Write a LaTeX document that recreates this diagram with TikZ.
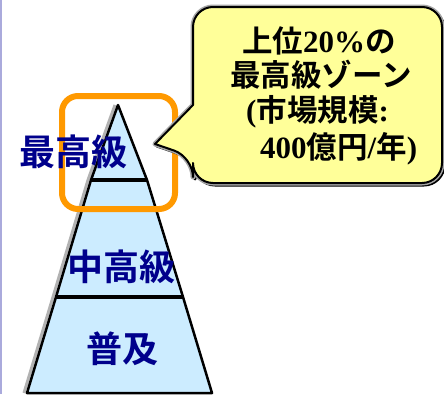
\documentclass[tikz,border=0pt]{standalone}
\usepackage{fontspec}
\setmainfont{Liberation Serif}
\newfontfamily\cjk{Noto Sans CJK JP}[BoldFont={* Bold}]
\definecolor{pyr}{RGB}{204,236,255}
\definecolor{lab}{RGB}{0,0,140}
\definecolor{orng}{RGB}{255,153,0}
\definecolor{callo}{RGB}{255,255,153}
\definecolor{edgeline}{RGB}{170,170,220}
\tikzset{
  lvl/.style={inner sep=0pt, text=lab, font=\cjk\bfseries\fontsize{36}{36}\selectfont},
  cline/.style={inner sep=0pt, anchor=base west, font=\bfseries\fontsize{31}{31}\selectfont},
}
\newcommand{\cj}[1]{{\cjk\bfseries\fontsize{30.5}{30.5}\selectfont #1}}
\begin{document}
\begin{tikzpicture}[x=1pt,y=-1pt]
\useasboundingbox (0,0) rectangle (444,394);
\fill[white] (0,0) rectangle (444,394);
\draw[edgeline, line width=1.5] (0.75,0) -- (0.75,394);
% pyramid
\coordinate (apex) at (118,105);
\coordinate (l1) at (91,180);
\coordinate (r1) at (147,180);
\coordinate (l2) at (56,297);
\coordinate (r2) at (183,297);
\coordinate (l3) at (27,393);
\coordinate (r3) at (212,393);
\draw[gray!60, line width=3] ([xshift=-3pt]apex) -- ([xshift=-3pt]l1) -- ([xshift=-3pt]l2) -- ([xshift=-3pt]l3);
\filldraw[fill=pyr, draw=black, line width=2.5, line join=round]
  (apex) -- (r1) -- (r2) -- (r3) -- (l3) -- (l2) -- (l1) -- cycle;
\draw[line width=4] (l1) -- (r1);
\draw[line width=4] (l2) -- (r2);
% orange highlight
\draw[orng, line width=6, rounded corners=16] (62,96) rectangle (175,209);
% callout
\draw[black, line width=3, rounded corners=20, line join=round, shift={(2,2)}] (193,105) -- (193,7) -- (442,7) -- (442,183) -- (193,183) -- (193,157) [sharp corners] -- (155,144) -- cycle;
\draw[gray!70, line width=5, rounded corners=20, line join=round] (193,105) -- (193,7) -- (442,7) -- (442,183) -- (193,183) -- (193,157) [sharp corners] -- (155,144) -- cycle;
\filldraw[fill=callo, draw=black, line width=2, rounded corners=20, line join=round] (193,105) -- (193,7) -- (442,7) -- (442,183) -- (193,183) -- (193,157) [sharp corners] -- (155,144) -- cycle;
\node[cline] (t1) at (242,52) {\cj{上位}20\%\cj{の}};
\node[cline] (t2) at (230,86) {\cj{最高級ゾーン}};
\node[cline] (t3) at (246,121) {(\cj{市場規模}:};
\node[cline] (t4) at (260,158) {400\cj{億円}/\cj{年})};
% level labels
\node[lvl] (lb1) at (73,152) {最高級};
\node[lvl] (lb2) at (121,267) {中高級};
\node[lvl] (lb3) at (122,349) {普及};
\end{tikzpicture}
\end{document}
